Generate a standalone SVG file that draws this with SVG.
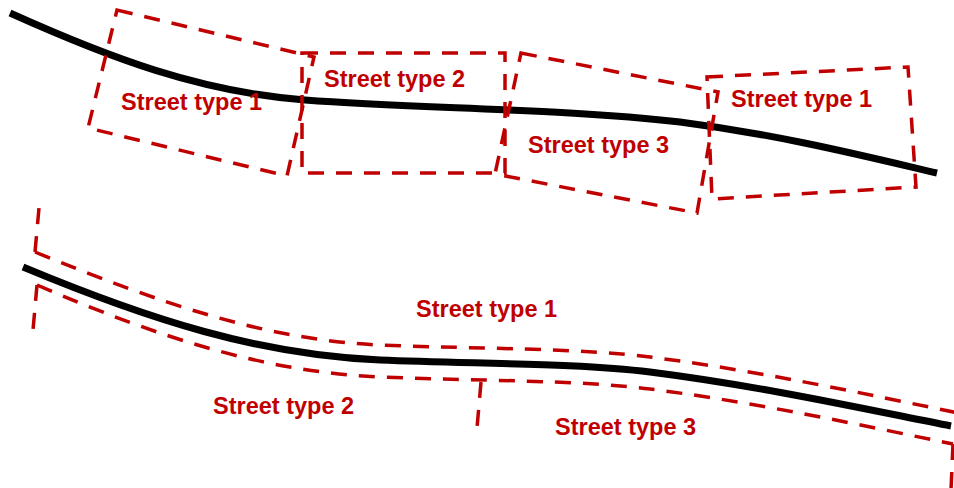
<svg xmlns="http://www.w3.org/2000/svg" width="954" height="488" viewBox="0 0 954 488">
<style>
.road{fill:none;stroke:#000;stroke-width:7;stroke-linecap:butt}
.zone{fill:none;stroke:#c00000;stroke-width:3.5;stroke-dasharray:16 12;stroke-linejoin:miter}
.lbl{font-family:"Liberation Sans",Arial,sans-serif;font-weight:bold;font-size:23.5px;fill:#c00000}
</style>
<rect width="954" height="488" fill="#fff"/>
<g id="connectors">
<path class="road" d="M10,13 C110,58 200,92 305,100 C420,109 560,108 680,122 C780,135 860,155 937,173"/>
<path class="road" d="M23,267 C150,320 260,355 380,360 C480,364 580,363 650,372 C760,386 860,408 951,426"/>
</g>
<g id="top-zone-1">
<polygon class="zone" points="117,10 314,57 287,176 88,128"/>
<text class="lbl" x="121" y="110">Street type 1</text>
</g>
<g id="top-zone-2">
<polygon class="zone" points="302,53 505,53 505,173 302,173"/>
<text class="lbl" x="324" y="87">Street type 2</text>
</g>
<g id="top-zone-3">
<polygon class="zone" points="521,53 718,92 697,213 495,174"/>
<text class="lbl" x="528" y="153">Street type 3</text>
</g>
<g id="top-zone-4">
<polygon class="zone" points="707,77 908,67 916,187 712,199"/>
<text class="lbl" x="731" y="107">Street type 1</text>
</g>
<g id="bottom-zone-1">
<path class="zone" d="M35,252 L39,208"/>
<path class="zone" d="M35,252 C160,303 265,340 380,345 C480,349 580,348 650,357 C760,371 860,393 956,412.5"/>
<text class="lbl" x="416" y="317">Street type 1</text>
</g>
<g id="bottom-zone-2">
<path class="zone" d="M37,285 L33,330"/>
<path class="zone" d="M37,285 C160,338 265,372 380,377 C480,381 580,380 650,389 C760,403 860,425 953,444"/>
<path class="zone" d="M481,382 L477,428"/>
<text class="lbl" x="213" y="414">Street type 2</text>
</g>
<g id="bottom-zone-3">
<path class="zone" d="M953,444 L951,490"/>
<text class="lbl" x="555" y="435">Street type 3</text>
</g>
</svg>
